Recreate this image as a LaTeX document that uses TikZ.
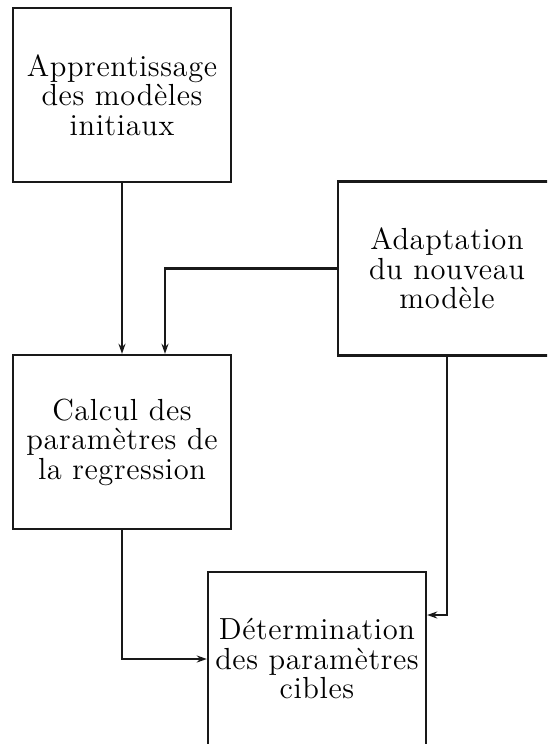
\documentclass[tikz,border=0pt]{standalone}
\usepackage{fontspec}
\setmainfont{lmroman12-regular.otf}[LetterSpace=2]
\usetikzlibrary{arrows.meta}
\begin{document}
\begin{tikzpicture}[x=1pt,y=1pt,
  boxnode/.style={draw=black!90, line width=2.4pt, rectangle, minimum width=218pt, minimum height=174pt, inner sep=0pt, align=center, font=\fontsize{30.5}{29.5}\selectfont},
  arr/.style={draw=black!90, line width=2.4pt, -{Stealth[length=10pt,width=7pt]}}]
\useasboundingbox (0,0) rectangle (547,-744);
\clip (0,0) rectangle (547,-744);
\node[boxnode] (A) at (122,-95) {Apprentissage\\des modèles\\initiaux};
\node[boxnode] (B) at (447,-268.5) {Adaptation\\du nouveau\\modèle};
\node[boxnode] (C) at (122,-442) {Calcul des\\paramètres de\\la regression};
\node[boxnode] (D) at (317,-659) {Détermination\\des paramètres\\cibles};
\draw[arr] (A.south) -- (C.north);
\draw[arr] (B.west) -| ([xshift=43pt]C.north);
\draw[arr] (C.south) |- (D.west);
\draw[arr] (B.south) |- ([yshift=44pt]D.east);
\end{tikzpicture}
\end{document}
